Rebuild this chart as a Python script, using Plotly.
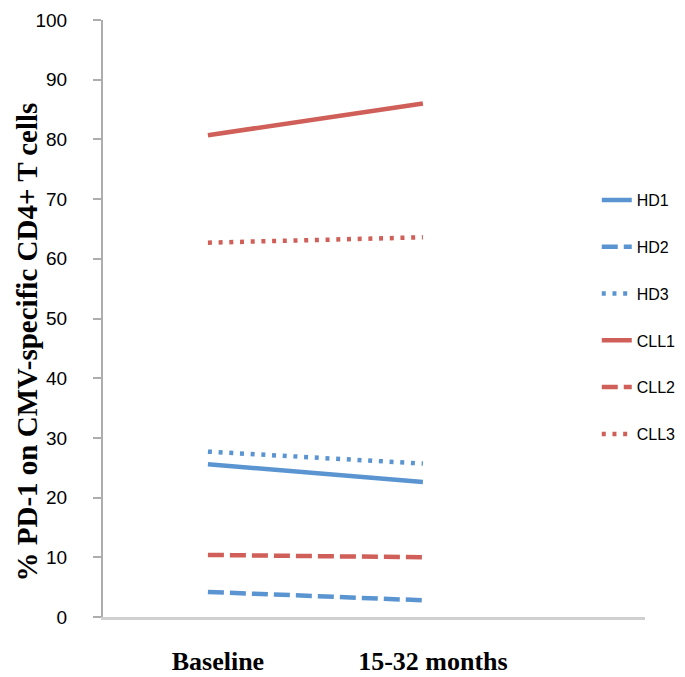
import plotly.graph_objects as go

categories = ["Baseline", "15-32 months"]
x_pos = [0, 1]
series_names = ["HD1", "HD2", "HD3", "CLL1", "CLL2", "CLL3"]
hd1 = [25.6, 22.6]
hd2 = [4.2, 2.8]
hd3 = [27.7, 25.7]
cll1 = [80.7, 86.0]
cll2 = [10.4, 10.0]
cll3 = [62.7, 63.6]
y_ticks = [0, 10, 20, 30, 40, 50, 60, 70, 80, 90, 100]

values = [hd1, hd2, hd3, cll1, cll2, cll3]
BLUE = "#5B95D1"
RED = "#CF5F58"
colors = [BLUE, BLUE, BLUE, RED, RED, RED]
dashes = ["solid", "16px,6px", "4px,6.7px", "solid", "16px,6px", "4px,6.7px"]

fig = go.Figure()
for name, vals, c, d in zip(series_names, values, colors, dashes):
    fig.add_trace(go.Scatter(
        x=x_pos, y=vals, mode="lines", name=name, legendgroup=name,
        line=dict(color=c, width=4.5, dash=d),
    ))

# page body has an 8px margin, so the figure is sized to fit the window
fig.update_layout(
    width=677, height=669,
    margin=dict(l=95, r=40, t=12, b=60, autoexpand=False),
    plot_bgcolor="white", paper_bgcolor="white",
    showlegend=True,
    legend=dict(
        x=0.911, xanchor="left", y=0.727, yanchor="top",
        font=dict(family="Liberation Sans", size=16, color="#000000"),
        tracegroupgap=23, bgcolor="rgba(0,0,0,0)",
    ),
    annotations=[dict(
        text="% PD-1 on CMV-specific CD4+ T cells",
        xref="paper", yref="paper", x=-0.14, y=0.46,
        xanchor="center", yanchor="middle", textangle=-90, showarrow=False,
        borderpad=0,
        font=dict(family="Liberation Serif", size=29, color="#000000", weight="bold"),
    )],
)
fig.update_xaxes(
    range=[-0.488, 2.033], tickvals=x_pos, ticktext=categories,
    showline=True, linecolor="#D0D0D0", linewidth=3,
    ticks="", showgrid=False, zeroline=False, automargin=False,
    ticklabelstandoff=19, ticklabelshift=10,
    tickfont=dict(family="Liberation Serif", size=26, color="#000000", weight="bold"),
)
fig.update_yaxes(
    range=[0, 100], tickvals=y_ticks,
    showline=True, linecolor="#ADADAD", linewidth=2,
    ticks="outside", ticklen=8, tickcolor="#ADADAD", tickwidth=2,
    showgrid=False, zeroline=False, ticklabelstandoff=22, automargin=False,
    tickfont=dict(family="Liberation Sans", size=19, color="#000000"),
)

fig.write_html("out.html")
